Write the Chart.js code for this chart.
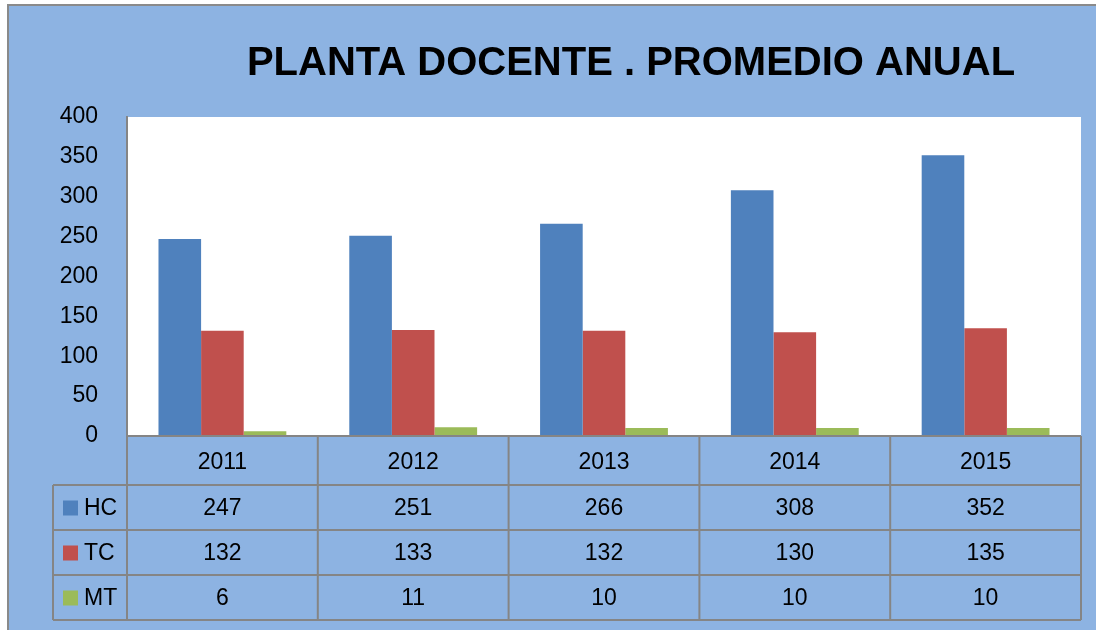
<!DOCTYPE html>
<html>
<head>
<meta charset="utf-8">
<script src="https://cdn.jsdelivr.net/npm/chart.js@4.4.1/dist/chart.umd.min.js"></script>
<style>
  html, body { margin: 0; padding: 0; background: #fff; }
  #wrap { width: 1096px; height: 630px; }
</style>
</head>
<body>
<div id="wrap"><canvas id="chart" width="1096" height="630"></canvas></div>
<script>
// data
const years = ['2011', '2012', '2013', '2014', '2015'];
const hcValues = [247, 251, 266, 308, 352];
const tcValues = [132, 133, 132, 130, 135];
const mtValues = [6, 11, 10, 10, 10];
const seriesNames = ['HC', 'TC', 'MT'];
const seriesColors = ['#4F81BD', '#C0504D', '#9BBB59'];
const chartTitle = 'PLANTA DOCENTE . PROMEDIO ANUAL';

const FONT = '"Liberation Sans", Arial, sans-serif';
const BG = '#8DB3E2';
const LINE = '#858585';

// background, white plot area, title
const backdrop = {
  id: 'backdrop',
  beforeDraw(chart) {
    const { ctx, chartArea: a, width, height } = chart;
    ctx.save();
    ctx.fillStyle = '#fff';
    ctx.fillRect(0, 0, width, height);
    ctx.fillStyle = BG;
    ctx.fillRect(8, 5, width - 8, height - 5);
    ctx.strokeStyle = '#8a8a8a';
    ctx.lineWidth = 2;
    ctx.beginPath();
    ctx.moveTo(8, height);
    ctx.lineTo(8, 5);
    ctx.lineTo(width, 5);
    ctx.stroke();
    ctx.fillStyle = '#fff';
    ctx.fillRect(a.left, a.top, a.right - a.left, a.bottom - a.top);

    ctx.fillStyle = '#000';
    ctx.font = 'bold 40px ' + FONT;
    ctx.textAlign = 'center';
    ctx.textBaseline = 'middle';
    ctx.fillText(chartTitle, 631, 64);
    ctx.restore();
  }
};

// data table under the plot, with legend keys
const dataTable = {
  id: 'dataTable',
  afterDraw(chart) {
    const { ctx, chartArea: a } = chart;
    const x = chart.scales.x;
    const rows = chart.data.datasets;
    const headH = 49, rowH = 45;
    const top = a.bottom;
    const bottom = top + headH + rows.length * rowH;
    const legLeft = 53;
    const colW = (a.right - a.left) / years.length;

    ctx.save();
    ctx.strokeStyle = LINE;
    ctx.lineWidth = 2;
    ctx.beginPath();
    // horizontal lines
    ctx.moveTo(a.left, top); ctx.lineTo(a.right, top);
    for (let r = 0; r <= rows.length; r++) {
      const y = top + headH + r * rowH;
      ctx.moveTo(legLeft, y); ctx.lineTo(a.right, y);
    }
    // vertical lines
    ctx.moveTo(legLeft, top + headH); ctx.lineTo(legLeft, bottom);
    for (let c = 0; c <= years.length; c++) {
      const xx = a.left + c * colW;
      ctx.moveTo(xx, top); ctx.lineTo(xx, bottom);
    }
    ctx.stroke();

    ctx.fillStyle = '#000';
    ctx.font = '23px ' + FONT;
    ctx.textAlign = 'center';
    ctx.textBaseline = 'middle';
    years.forEach((yr, i) => {
      ctx.fillText(yr, x.getPixelForValue(i), top + headH / 2 + 2);
    });
    rows.forEach((ds, r) => {
      const cy = top + headH + r * rowH + rowH / 2 + 1;
      ds.data.forEach((v, i) => {
        ctx.fillText(String(v), x.getPixelForValue(i), cy);
      });
      ctx.fillStyle = ds.backgroundColor;
      ctx.fillRect(63, cy - 8, 15, 15);
      ctx.fillStyle = '#000';
      ctx.textAlign = 'left';
      ctx.fillText(ds.label, 84, cy);
      ctx.textAlign = 'center';
    });
    ctx.restore();
  }
};

new Chart(document.getElementById('chart'), {
  type: 'bar',
  data: {
    labels: years,
    datasets: [
      { label: seriesNames[0], data: hcValues, backgroundColor: seriesColors[0] },
      { label: seriesNames[1], data: tcValues, backgroundColor: seriesColors[1] },
      { label: seriesNames[2], data: mtValues, backgroundColor: seriesColors[2] }
    ]
  },
  options: {
    responsive: false,
    animation: false,
    devicePixelRatio: 1,
    layout: { padding: { top: 117, right: 15, left: 0, bottom: 0 } },
    datasets: { bar: { barPercentage: 1, categoryPercentage: 0.67 } },
    plugins: {
      legend: { display: false },
      tooltip: { enabled: false },
      title: { display: false }
    },
    scales: {
      x: {
        grid: { display: false },
        border: { display: false },
        ticks: { display: false },
        afterFit: s => { s.height = 194; }
      },
      y: {
        min: 0,
        max: 400,
        grid: { display: false },
        border: { display: true, color: LINE, width: 2 },
        ticks: {
          stepSize: 50,
          padding: 21,
          color: '#000',
          font: { family: FONT, size: 23 }
        },
        afterFit: s => { s.width = 127; }
      }
    }
  },
  plugins: [backdrop, dataTable]
});
</script>
</body>
</html>
